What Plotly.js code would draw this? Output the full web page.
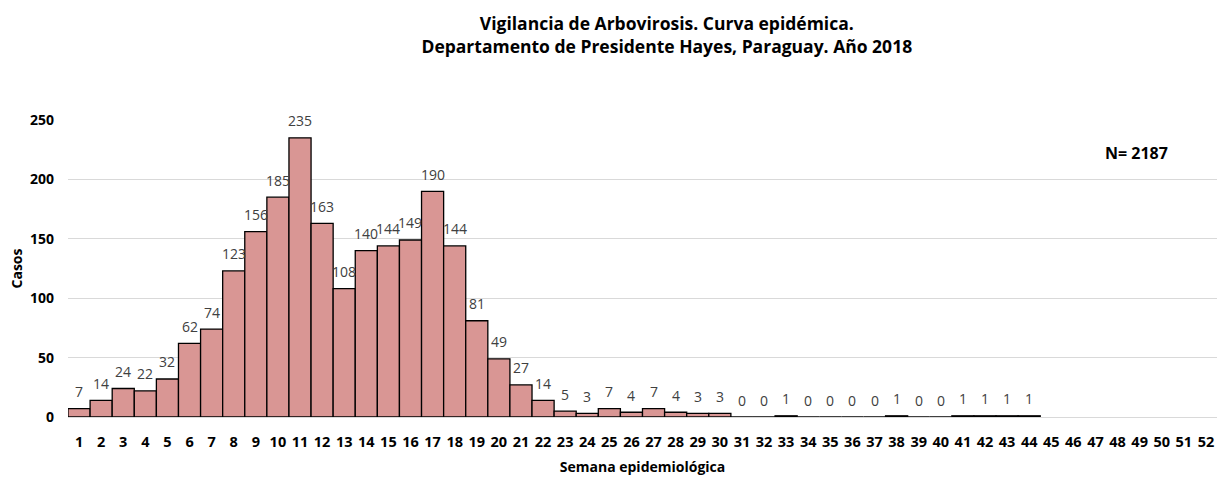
<!DOCTYPE html>
<html>
<head>
<meta charset="utf-8">
<script src="https://cdn.plot.ly/plotly-3.0.1.min.js"></script>
<style>html,body{margin:0;padding:0;background:#fff;}#chart{width:1219px;height:478px;}</style>
</head>
<body>
<div id="chart"></div>
<script>
const weeks = Array.from({length: 52}, (_, i) => String(i + 1));
const cases = [7,14,24,22,32,62,74,123,156,185,235,163,108,140,144,149,190,144,81,49,27,14,5,3,7,4,7,4,3,3,0,0,1,0,0,0,0,1,0,0,1,1,1,1,null,null,null,null,null,null,null,null];
const yTicks = [0,50,100,150,200,250];
const titleText = "Vigilancia de Arbovirosis. Curva epidémica.<br>Departamento de Presidente Hayes, Paraguay. Año 2018";
const totalText = "N= 2187";

const font = "Open Sans, Noto Sans, sans-serif";

const trace = {
  type: 'bar',
  x: weeks,
  y: cases,
  marker: {color: '#d99694', line: {color: '#000000', width: 1.3}},
  hoverinfo: 'x+y'
};

// data labels built from the data arrays (x = category index on the category axis)
const labelAnnotations = weeks.map((w, i) => cases[i] === null ? null : ({
  x: i, y: cases[i], xref: 'x', yref: 'y', text: String(cases[i]),
  showarrow: false, xanchor: 'center', yanchor: 'middle', yshift: 17,
  font: {family: font, size: 14, color: '#404040'}
})).filter(a => a !== null);

const layout = {
  width: 1219, height: 478,
  margin: {l: 68, r: 2, t: 120, b: 61},
  paper_bgcolor: '#ffffff', plot_bgcolor: '#ffffff',
  bargap: 0,
  showlegend: false,
  title: {text: titleText, x: 0.547, xanchor: 'center', yref: 'container', y: 0.937, yanchor: 'middle',
          font: {family: font, size: 17.5, color: '#000000', weight: 'bold'}},
  xaxis: {
    type: 'category', tickvals: weeks, ticktext: weeks,
    tickfont: {family: font, size: 14.5, color: '#000000', weight: 'bold'},
    showgrid: false, showline: false, ticks: '', ticklabelstandoff: 14,
    title: {text: 'Semana epidemiológica', standoff: 12, font: {family: font, size: 14, color: '#000000', weight: 'bold'}}
  },
  yaxis: {
    range: [0, 250], tickvals: yTicks, ticktext: yTicks.map(String),
    tickfont: {family: font, size: 14, color: '#000000', weight: 'bold'},
    showgrid: true, gridcolor: '#d9d9d9', gridwidth: 1,
    zeroline: true, zerolinecolor: '#d9d9d9', zerolinewidth: 1,
    showline: false, ticks: '', ticklabelstandoff: 13,
    title: {text: 'Casos', standoff: 4, font: {family: font, size: 14, color: '#000000', weight: 'bold'}}
  },
  annotations: labelAnnotations.concat([{
    text: totalText, xref: 'paper', yref: 'paper', x: 0.930, y: 0.89, xanchor: 'center', yanchor: 'middle',
    showarrow: false, font: {family: font, size: 16, color: '#000000', weight: 'bold'}
  }])
};

Plotly.newPlot('chart', [trace], layout, {displayModeBar: false, staticPlot: true});
</script>
</body>
</html>
